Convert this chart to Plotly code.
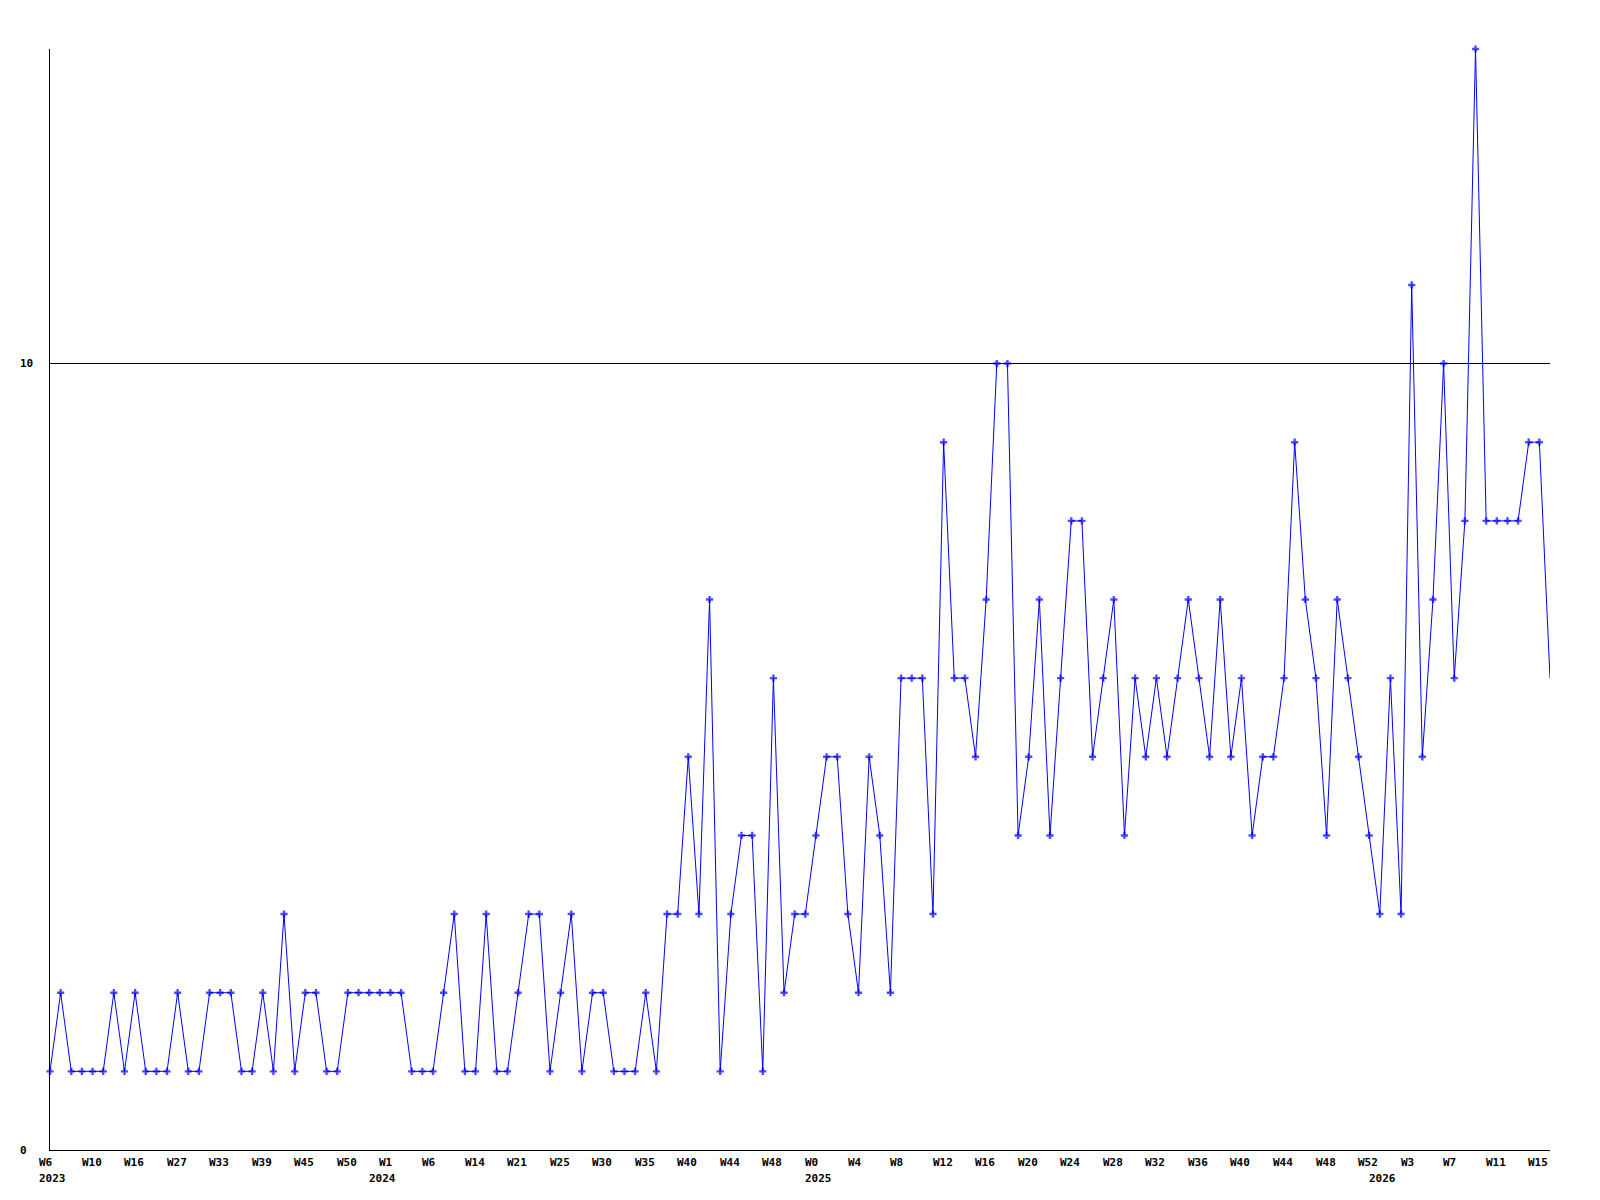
import plotly.graph_objects as go

values = [1,2,1,1,1,1,2,1,2,1,1,1,2,1,1,2,2,2,1,1,2,1,3,1,2,2,1,1,2,2,2,2,2,2,1,1,1,
          2,3,1,1,3,1,1,2,3,3,
          1,2,3,1,2,2,1,1,1,2,
          1,3,3,5,3,7,1,3,4,4,
          1,6,2,3,3,4,5,5,3,2,
          5,4,2,6,6,6,3,9,6,6,
          5,7,10,10,4,5,7,4,6,8,
          8,5,6,7,4,6,5,6,5,6,
          7,6,5,7,5,6,4,5,5,6,
          9,7,6,4,7,6,5,4,3,6,
          3,11,5,7,10,6,8,14,8,8,
          8,8,9,9,6]

week_labels = ["W6","W10","W16","W27","W33","W39","W45","W50","W1","W6","W14","W21",
               "W25","W30","W35","W40","W44","W48","W0","W4","W8","W12","W16","W20",
               "W24","W28","W32","W36","W40","W44","W48","W52","W3","W7","W11","W15"]
week_step = 4
year_labels = ["2023", "2024", "2025", "2026"]
year_index = [0, 31, 72, 125]
y_tick_vals = [0, 10]

x = list(range(len(values)))
sizes = [6] * len(values)
sizes[-1] = 0

fig = go.Figure()
fig.add_trace(go.Scatter(
    x=x, y=values, mode="lines+markers",
    line=dict(color="#0000ff", width=1),
    marker=dict(symbol="cross", size=sizes, color="#0000ff", line=dict(width=0)),
    cliponaxis=False, showlegend=False, hoverinfo="skip"))

font = dict(family="DejaVu Sans Mono", size=11, color="black")
ann = []
for i, lab in enumerate(week_labels):
    ann.append(dict(x=i * week_step, y=0, xref="x", yref="paper", text="<b>%s</b>" % lab,
                    showarrow=False, xanchor="left", yanchor="middle", xshift=-13, yshift=-12,
                    font=font))
for idx, lab in zip(year_index, year_labels):
    ann.append(dict(x=idx, y=0, xref="x", yref="paper", text="<b>%s</b>" % lab,
                    showarrow=False, xanchor="left", yanchor="middle", xshift=-13, yshift=-28,
                    font=font))
for v in y_tick_vals:
    ann.append(dict(x=0, y=v, xref="paper", yref="y", text="<b>%d</b>" % v,
                    showarrow=False, xanchor="left", yanchor="middle", xshift=-32,
                    font=font))

fig.update_layout(
    width=1584, height=1184,
    margin=dict(l=42, r=42, t=41, b=42),
    paper_bgcolor="white", plot_bgcolor="white",
    xaxis=dict(range=[0, len(values) - 1], showline=True, linecolor="black", linewidth=1,
               showgrid=False, zeroline=False, showticklabels=False, ticks=""),
    yaxis=dict(range=[0, 14], showline=True, linecolor="black", linewidth=1,
               tickvals=y_tick_vals, showgrid=True, gridcolor="black", gridwidth=1,
               zeroline=False, showticklabels=False, ticks=""),
    annotations=ann,
)

fig.write_html("out.html")
